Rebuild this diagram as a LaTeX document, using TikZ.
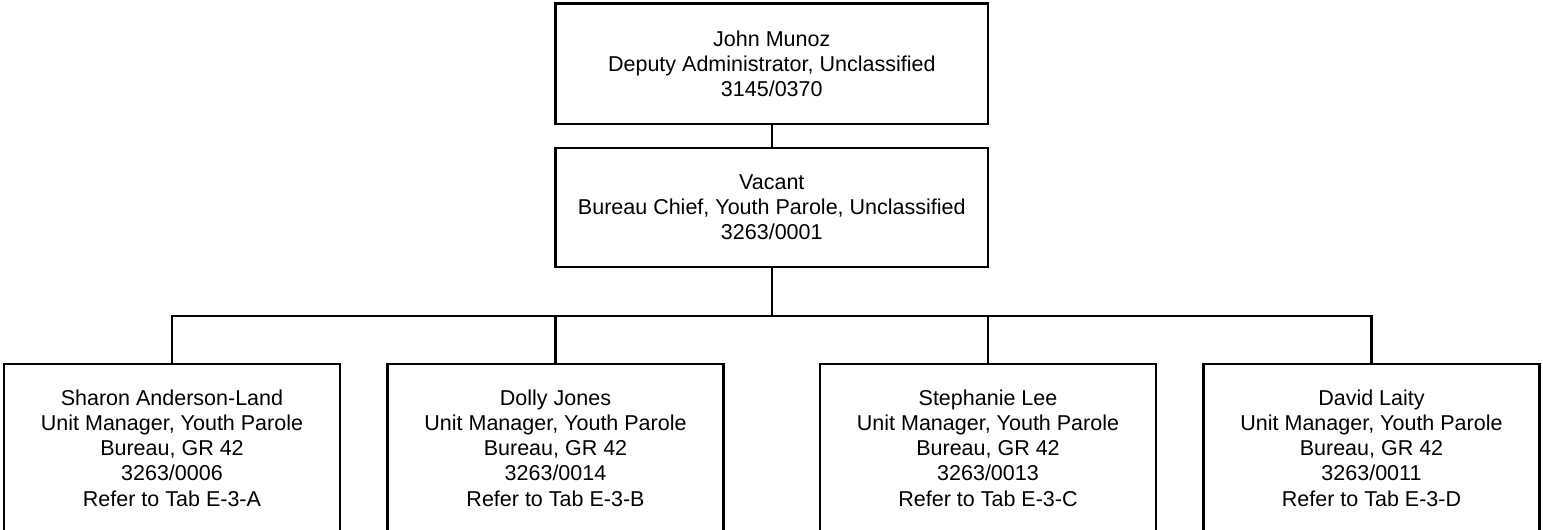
\documentclass[tikz,border=0pt]{standalone}
\usepackage{fontspec}
\setmainfont{Liberation Sans}
\tikzset{
  posbox/.style={draw, line width=1.15pt, align=center, inner sep=0pt,
    font=\fontsize{10.75}{12.6}\selectfont},
  topbox/.style={posbox, minimum width=216.25pt, minimum height=60.25pt},
  unitbox/.style={posbox, minimum width=168pt, minimum height=84pt},
  link/.style={line width=1.15pt}
}
\begin{document}
\begin{tikzpicture}[x=0.5pt, y=-0.5pt]
\useasboundingbox (0,0) rectangle (1543,530);

\node[topbox] (deputy) at (771.8, 63.8) {John Munoz\\Deputy Administrator, Unclassified\\3145/0370};
\node[topbox, minimum height=59.5pt] (chief) at (771.8, 207.5) {Vacant\\Bureau Chief, Youth Parole, Unclassified\\3263/0001};

\node[unitbox] (anderson) at (172, 448) {Sharon Anderson-Land\\Unit Manager, Youth Parole\\Bureau, GR 42\\3263/0006\\Refer to Tab E-3-A};
\node[unitbox] (jones) at (555.5, 448) {Dolly Jones\\Unit Manager, Youth Parole\\Bureau, GR 42\\3263/0014\\Refer to Tab E-3-B};
\node[unitbox] (lee) at (988, 448) {Stephanie Lee\\Unit Manager, Youth Parole\\Bureau, GR 42\\3263/0013\\Refer to Tab E-3-C};
\node[unitbox] (laity) at (1371.5, 448) {David Laity\\Unit Manager, Youth Parole\\Bureau, GR 42\\3263/0011\\Refer to Tab E-3-D};

\coordinate (bus) at (771.8, 316);

\draw[link] (deputy.south) -- (chief.north);
\draw[link] (chief.south) -- (bus);
\foreach \u in {anderson, jones, lee, laity}
  \draw[link] (bus) -| (\u.north);
\end{tikzpicture}
\end{document}
